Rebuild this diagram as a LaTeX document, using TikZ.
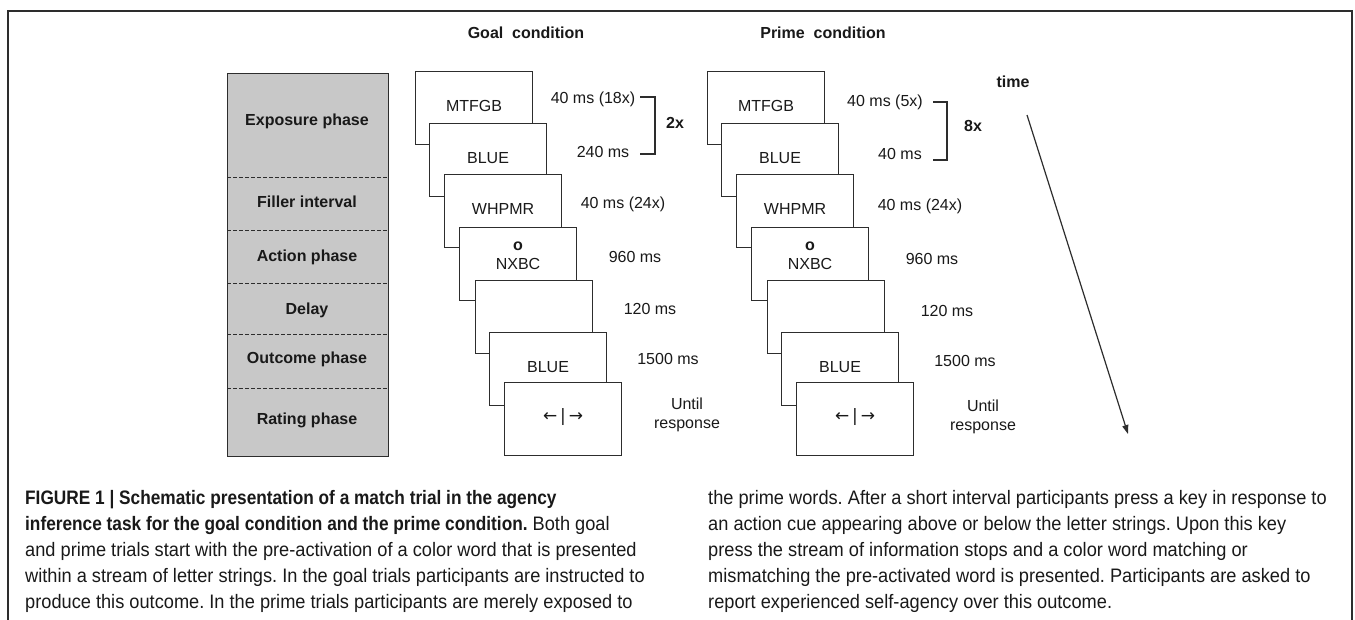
\documentclass[tikz,border=0pt]{standalone}
\usepackage{fontspec}
\setmainfont{Liberation Sans}
\newfontfamily\capfont[FakeStretch=0.934]{Liberation Sans}
\newfontfamily\capbfont[FakeStretch=0.885]{Liberation Sans Bold}
\newfontfamily\arrfont{DejaVu Sans}
\usetikzlibrary{arrows.meta}
\definecolor{ln}{RGB}{45,45,45}
\definecolor{txt}{RGB}{25,25,25}
\definecolor{phase}{RGB}{200,200,200}
\frenchspacing
\begin{document}
\begin{tikzpicture}[x=1pt,y=-1pt,
  lbl/.style={font=\fontsize{16}{18}\selectfont, text=txt, inner sep=0pt},
  blbl/.style={font=\bfseries\fontsize{16}{18}\selectfont, text=txt, inner sep=0pt},
  screen/.style={draw=ln, fill=white, line width=1.1pt, minimum width=117pt, minimum height=73pt, anchor=north west, inner sep=0pt},
  captxt/.style={font=\capfont\fontsize{19.5}{22}\selectfont, text=txt, inner sep=0pt, anchor=base west},
  captxtb/.style={font=\capbfont\fontsize{19.5}{22}\selectfont, text=txt, inner sep=0pt, anchor=base west},
  framestyle/.style={draw=ln, line width=1.1pt}
]
\useasboundingbox (0,0) rectangle (1355,620);
\fill[white] (0,0) rectangle (1355,620);
\draw[framestyle] (8,620) -- (8,11) -- (1352,11) -- (1352,620);

% headings
\node[blbl] (goalhead) at (526,33) {Goal\ \ condition};
\node[blbl] (primehead) at (823,33) {Prime\ \ condition};
\node[blbl] (time) at (1013,82) {time};

% phase column
\node[draw=ln, fill=phase, line width=1.1pt, minimum width=161pt, minimum height=383pt, anchor=north west, inner sep=0pt] (phases) at (227,73) {};
\foreach \yy in {178,231,284,335,388}
  \draw[ln, line width=1pt, dash pattern=on 4pt off 2pt] (227,\yy) -- (388,\yy);
\node[blbl] (ph1) at (307,121) {Exposure phase};
\node[blbl] (ph2) at (307,202) {Filler interval};
\node[blbl] (ph3) at (307,257) {Action phase};
\node[blbl] (ph4) at (307,310) {Delay};
\node[blbl] (ph5) at (307,359) {Outcome phase};
\node[blbl] (ph6) at (307,420) {Rating phase};

% goal screens
\node[screen] (g1) at (415,71) {};
\node[lbl] (g1t) at ([yshift=-35pt]g1.north) {MTFGB};
\node[screen] (g2) at (429,123) {};
\node[lbl] (g2t) at ([yshift=-35pt]g2.north) {BLUE};
\node[screen] (g3) at (444,174) {};
\node[lbl] (g3t) at ([yshift=-35pt]g3.north) {WHPMR};
\node[screen] (g4) at (459,227) {};
\node[blbl] (g4o) at ([yshift=-19pt]g4.north) {o};
\node[lbl] (g4t) at ([yshift=-37pt]g4.north) {NXBC};
\node[screen] (g5) at (475,280) {};
\node[screen] (g6) at (489,332) {};
\node[lbl] (g6t) at ([yshift=-35pt]g6.north) {BLUE};
\node[screen] (g7) at (504,382) {};
\node[lbl, font=\arrfont\fontsize{17}{18}\selectfont] (g7t) at ([yshift=-35pt]g7.north) {←\,|\,→};

% prime screens
\node[screen] (p1) at (707,71) {};
\node[lbl] (p1t) at ([yshift=-35pt]p1.north) {MTFGB};
\node[screen] (p2) at (721,123) {};
\node[lbl] (p2t) at ([yshift=-35pt]p2.north) {BLUE};
\node[screen] (p3) at (736,174) {};
\node[lbl] (p3t) at ([yshift=-35pt]p3.north) {WHPMR};
\node[screen] (p4) at (751,227) {};
\node[blbl] (p4o) at ([yshift=-19pt]p4.north) {o};
\node[lbl] (p4t) at ([yshift=-37pt]p4.north) {NXBC};
\node[screen] (p5) at (767,280) {};
\node[screen] (p6) at (781,332) {};
\node[lbl] (p6t) at ([yshift=-35pt]p6.north) {BLUE};
\node[screen] (p7) at (796,382) {};
\node[lbl, font=\arrfont\fontsize{17}{18}\selectfont] (p7t) at ([yshift=-35pt]p7.north) {←\,|\,→};

% goal timings
\node[lbl] (gd1) at (593,99) {40 ms (18x)};
\node[lbl] (gd2) at (603,152) {240 ms};
\node[blbl] (grep) at (675,123) {2x};
\node[lbl] (gd3) at (623,204) {40 ms (24x)};
\node[lbl] (gd4) at (635,257) {960 ms};
\node[lbl] (gd5) at (650,309) {120 ms};
\node[lbl] (gd6) at (668,359) {1500 ms};
\node[lbl, align=center, font=\fontsize{16}{18.5}\selectfont] (gd7) at (687,415) {Until\\response};

% prime timings
\node[lbl] (pd1) at (885,102) {40 ms (5x)};
\node[lbl] (pd2) at (900,154) {40 ms};
\node[blbl] (prep) at (973,126) {8x};
\node[lbl] (pd3) at (920,206) {40 ms (24x)};
\node[lbl] (pd4) at (932,259) {960 ms};
\node[lbl] (pd5) at (947,311) {120 ms};
\node[lbl] (pd6) at (965,361) {1500 ms};
\node[lbl, align=center, font=\fontsize{16}{19}\selectfont] (pd7) at (983,417) {Until\\response};

% brackets
\coordinate (gb1) at (640,97); \coordinate (gb2) at (655,97);
\coordinate (gb3) at (655,154); \coordinate (gb4) at (640,154);
\draw[ln, line width=1.3pt] (gb1) -- (gb2) -- (gb3) -- (gb4);
\coordinate (pb1) at (933,102); \coordinate (pb2) at (947,102);
\coordinate (pb3) at (947,160); \coordinate (pb4) at (933,160);
\draw[ln, line width=1.3pt] (pb1) -- (pb2) -- (pb3) -- (pb4);

% time arrow
\coordinate (t0) at (1027,115);
\coordinate (t1) at (1128,434);
\draw[ln, line width=1.2pt, -{Triangle[length=9pt,width=6pt]}] (t0) -- (t1);

% caption
\node[captxtb] (c1) at (25,504) {FIGURE 1 | Schematic presentation of a match trial in the agency};
\node[captxt] (c2) at (25,530) {{\capbfont inference task for the goal condition and the prime condition.} Both goal};
\node[captxt] (c3) at (25,556) {and prime trials start with the pre-activation of a color word that is presented};
\node[captxt] (c4) at (25,582) {within a stream of letter strings. In the goal trials participants are instructed to};
\node[captxt] (c5) at (25,608) {produce this outcome. In the prime trials participants are merely exposed to};
\node[captxt] (r1) at (708,504) {the prime words. After a short interval participants press a key in response to};
\node[captxt] (r2) at (708,530) {an action cue appearing above or below the letter strings. Upon this key};
\node[captxt] (r3) at (708,556) {press the stream of information stops and a color word matching or};
\node[captxt] (r4) at (708,582) {mismatching the pre-activated word is presented. Participants are asked to};
\node[captxt] (r5) at (708,608) {report experienced self-agency over this outcome.};
\end{tikzpicture}
\end{document}
